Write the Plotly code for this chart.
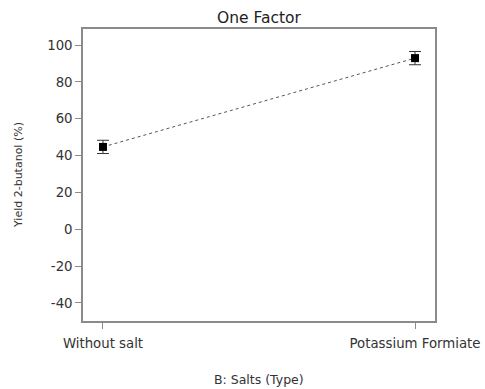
import plotly.graph_objects as go

# One-factor effect of salt type on 2-butanol yield
salts = ["Without salt", "Potassium Formiate"]
yield_pct = [44.7, 92.9]
yield_err = [3.6, 3.6]

y_ticks = [-40, -20, 0, 20, 40, 60, 80, 100]
y_tick_text = [str(v) for v in y_ticks]  # plain hyphen for negatives

FONT = "DejaVu Sans, Verdana, sans-serif"
AXIS_COL = "#8a8a8a"
TEXT_COL = "#333333"

fig = go.Figure()
fig.add_trace(go.Scatter(
    x=[0, 1],
    y=yield_pct,
    mode="lines+markers",
    line=dict(color="#555555", width=1, dash="dot"),
    marker=dict(symbol="square", size=8, color="black"),
    error_y=dict(type="data", array=yield_err, visible=True,
                 color="#333333", thickness=1, width=6),
    showlegend=False,
))

fig.update_layout(
    width=485, height=389,
    margin=dict(l=83, r=50, t=29, b=68),
    paper_bgcolor="white", plot_bgcolor="white",
    font=dict(family=FONT, size=12, color=TEXT_COL),
    title=dict(text="One Factor", x=0.534, xanchor="center",
               y=0.956, yanchor="middle",
               font=dict(family=FONT, size=15.5, color="#222222")),
    annotations=[
        dict(text="B: Salts (Type)", xref="paper", yref="paper",
             x=0.5, y=-0.2, xanchor="center", yanchor="middle",
             showarrow=False,
             font=dict(family=FONT, size=12.5, color=TEXT_COL)),
        dict(text="Yield 2-butanol (%)", xref="paper", yref="paper",
             x=0, y=0.5, xshift=-65, xanchor="center", yanchor="middle",
             textangle=-90, showarrow=False,
             font=dict(family=FONT, size=11, color=TEXT_COL)),
    ],
)

fig.update_xaxes(
    range=[-0.064, 1.064], automargin=False,
    tickmode="array", tickvals=[0, 1], ticktext=salts,
    ticks="outside", ticklen=6, tickcolor=AXIS_COL,
    ticklabelstandoff=3,
    showline=True, linecolor=AXIS_COL, linewidth=1.5, mirror=True,
    showgrid=False, zeroline=False,
    tickfont=dict(family=FONT, size=13.3, color=TEXT_COL),
)

fig.update_yaxes(
    range=[-49.8, 108.7], automargin=False,
    tickmode="array", tickvals=y_ticks, ticktext=y_tick_text,
    ticks="outside", ticklen=6, tickcolor=AXIS_COL,
    showline=True, linecolor=AXIS_COL, linewidth=1.5, mirror=True,
    showgrid=False, zeroline=False,
    tickfont=dict(family=FONT, size=13.3, color=TEXT_COL),
)

fig.write_html("out.html")
